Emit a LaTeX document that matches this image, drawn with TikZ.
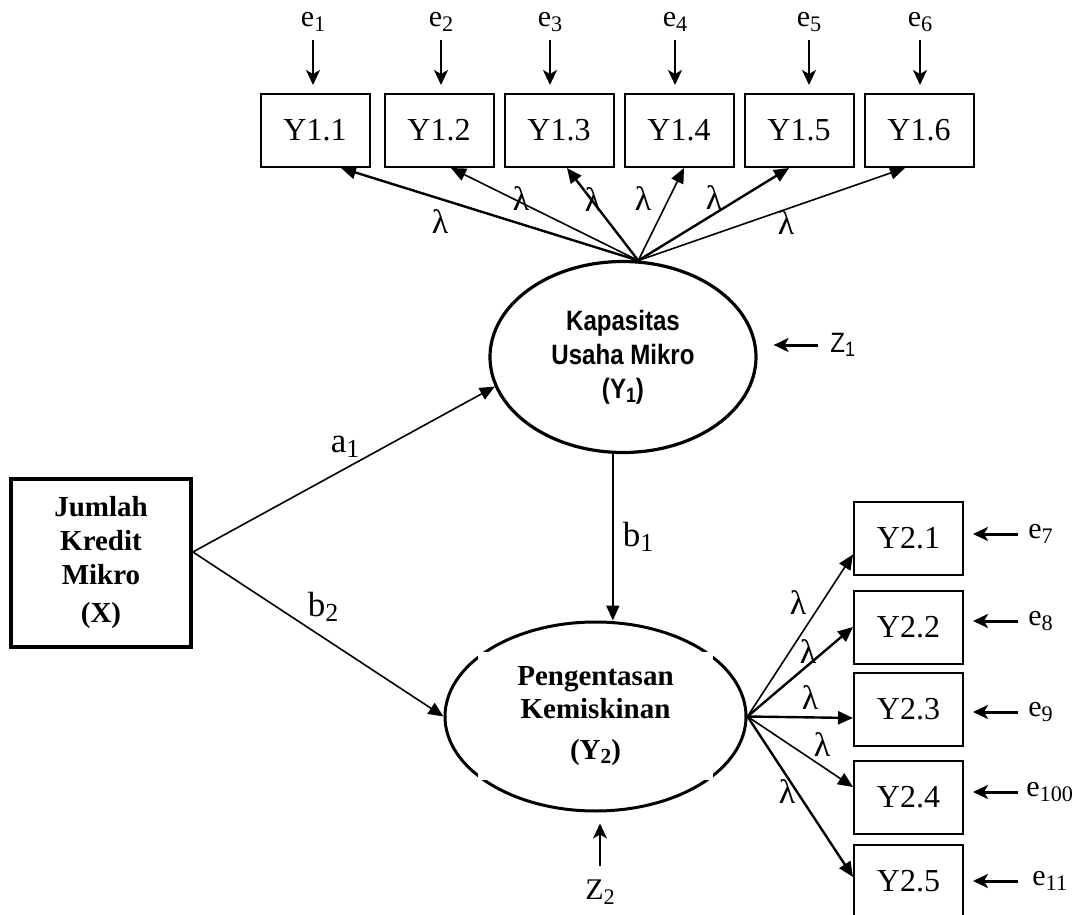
\documentclass[tikz,border=0pt]{standalone}
\usepackage{fontspec}
\setmainfont{Liberation Serif}
\newfontfamily\latentsans[FakeStretch=0.86]{Liberation Sans}
\usetikzlibrary{shapes.geometric,arrows.meta}
\newcommand{\idx}[1]{\raisebox{-0.32ex}{\scalebox{0.74}{#1}}}

\begin{document}
\begin{tikzpicture}[%
      x=0.5pt, y=-0.5pt,
      obs/.style={draw, line width=1pt, minimum width=54.5pt, minimum height=36.5pt,
        inner sep=0pt, font=\fontsize{16}{18}\selectfont},
      latent/.style={draw, ellipse, inner sep=0pt, line width=1.6pt},
      load/.style={line width=0.8pt, -{Triangle[length=7.5pt,width=6.5pt]}},
      heavy/.style={line width=1.2pt},
      err/.style={line width=1pt, -{Stealth[length=7.5pt,width=7pt,inset=2pt]}},
      lam/.style={font=\fontsize{17}{19}\selectfont, inner sep=0pt},
      elab/.style={font=\fontsize{15}{17}\selectfont, inner sep=0pt},
      coef/.style={font=\fontsize{17.5}{20}\selectfont, inner sep=0pt},
      ]
      \useasboundingbox (0,0) rectangle (1078,915);

      \node[draw, line width=1.9pt, minimum width=90pt, minimum height=84pt, align=center,
        font=\bfseries\fontsize{14.5}{17}\selectfont] (x) at (101,563) {Jumlah\\Kredit\\Mikro\\[2pt](X)};

      \node[latent, minimum width=133pt, minimum height=95.5pt, align=center,
        font=\latentsans\bfseries\fontsize{14}{17}\selectfont] (y1) at (623,357) {Kapasitas\\Usaha Mikro\\(Y\idx{1})};
      \node[latent, line width=1.5pt, minimum width=150.5pt, minimum height=94.5pt] (y2) at (595.5,716.5) {};
      \node[fill=white, minimum width=117.5pt, minimum height=64pt, align=center,
        font=\bfseries\fontsize{14.5}{16.5}\selectfont] (y2txt) at (595.5,716) {Pengentasan\\Kemiskinan\\[4pt](Y\idx{2})};

      \node[obs] (y11) at (315,130.5) {Y1.1};
      \node[obs] (y12) at (439,130.5) {Y1.2};
      \node[obs] (y13) at (559,130.5) {Y1.3};
      \node[obs] (y14) at (679,130.5) {Y1.4};
      \node[obs] (y15) at (799,130.5) {Y1.5};
      \node[obs] (y16) at (919,130.5) {Y1.6};

      \node[obs] (y21) at (908.5,538.5) {Y2.1};
      \node[obs] (y22) at (908.5,627) {Y2.2};
      \node[obs] (y23) at (908.5,709) {Y2.3};
      \node[obs] (y24) at (908.5,797) {Y2.4};
      \node[obs] (y25) at (908.5,881) {Y2.5};

      \node[elab] (e1) at (313,22) {e\idx{1}};
      \node[elab] (e2) at (441,22) {e\idx{2}};
      \node[elab] (e3) at (550,22) {e\idx{3}};
      \node[elab] (e4) at (675,22) {e\idx{4}};
      \node[elab] (e5) at (809,22) {e\idx{5}};
      \node[elab] (e6) at (920,22) {e\idx{6}};

      \node[elab, anchor=west] (e7) at (1028,534) {e\idx{7}};
      \node[elab, anchor=west] (e8) at (1028,621) {e\idx{8}};
      \node[elab, anchor=west] (e9) at (1028,712) {e\idx{9}};
      \node[elab, anchor=west] (e10) at (1026,792) {e\idx{100}};
      \node[elab, anchor=west] (e11) at (1032,881) {e\idx{11}};

      \node[inner sep=0pt, anchor=west, font=\latentsans\fontsize{14}{16}\selectfont] (z1) at (830,345) {Z\idx{1}};
      \node[inner sep=0pt, font=\fontsize{15}{17}\selectfont] (z2) at (600,892) {Z\idx{2}};

      \draw[err, shorten <=9pt, shorten >=4pt] (e1.center) -- (e1.center |- y11.north);
      \draw[err, shorten <=9pt, shorten >=4pt] (e2.center) -- (e2.center |- y12.north);
      \draw[err, shorten <=9pt, shorten >=4pt] (e3.center) -- (e3.center |- y13.north);
      \draw[err, shorten <=9pt, shorten >=4pt] (e4.center) -- (e4.center |- y14.north);
      \draw[err, shorten <=9pt, shorten >=4pt] (e5.center) -- (e5.center |- y15.north);
      \draw[err, shorten <=9pt, shorten >=4pt] (e6.center) -- (e6.center |- y16.north);

      \draw[err, line width=1.5pt, shorten <=5pt, shorten >=4.5pt] (e7.west) -- (e7.west -| y21.east);
      \draw[err, line width=1.5pt, shorten <=5pt, shorten >=4.5pt] (e8.west) -- (e8.west -| y22.east);
      \draw[err, line width=1.5pt, shorten <=5pt, shorten >=4.5pt] (e9.west) -- (e9.west -| y23.east);
      \draw[err, line width=1.5pt, shorten <=4pt, shorten >=4.5pt] (e10.west) -- (e10.west -| y24.east);
      \draw[err, line width=1.5pt, shorten <=7pt, shorten >=4.5pt] (e11.west) -- (e11.west -| y25.east);

      \draw[err, line width=1.5pt, shorten <=6pt, shorten >=8pt] (z1.west) -- (z1.west -| y1.east);
      \draw[err, shorten <=13pt, shorten >=5.5pt] (z2.center) -- (z2.center |- y2.south);

      \draw[load, heavy] (y1.81) -- ([xshift=13pt]y11.south);
      \draw[load] (y1.81) -- ([xshift=6pt]y12.south);
      \draw[load, heavy] (y1.81) -- ([xshift=4pt]y13.south);
      \draw[load] (y1.81) -- ([xshift=2.5pt]y14.south);
      \draw[load, heavy] (y1.81) -- ([xshift=-5pt]y15.south);
      \draw[load] (y1.81) -- ([xshift=-7pt]y16.south);

      \draw[load] (y2.east) -- ([yshift=-8pt]y21.west);
      \draw[load, heavy] (y2.east) -- (y22.west);
      \draw[load, heavy] (y2.east) -- ([yshift=-4.5pt]y23.west);
      \draw[load] (y2.east) -- ([yshift=5pt]y24.west);
      \draw[load, heavy] (y2.east) -- ([yshift=2pt]y25.west);

      \draw[load] ([yshift=5.5pt]x.east) -- (y1.193);
      \draw[load] ([yshift=5.5pt]x.east) -- (y2.west);
      \draw[load] (y1.264) -- (y1.264 |- y2.north);

      \node[lam] (l11) at (440,222) {λ};
      \node[lam] (l12) at (521,199) {λ};
      \node[lam] (l13) at (593,200) {λ};
      \node[lam] (l14) at (643,199) {λ};
      \node[lam] (l15) at (714,198) {λ};
      \node[lam] (l16) at (786,223) {λ};

      \node[lam] (l21) at (798,603) {λ};
      \node[lam] (l22) at (808,652) {λ};
      \node[lam] (l23) at (810,698) {λ};
      \node[lam] (l24) at (822,745) {λ};
      \node[lam] (l25) at (787,792) {λ};

      \node[coef] (a1) at (345,447) {a\idx{1}};
      \node[coef] (b1) at (638,537) {b\idx{1}};
      \node[coef] (b2) at (323,607) {b\idx{2}};
\end{tikzpicture}
\end{document}
